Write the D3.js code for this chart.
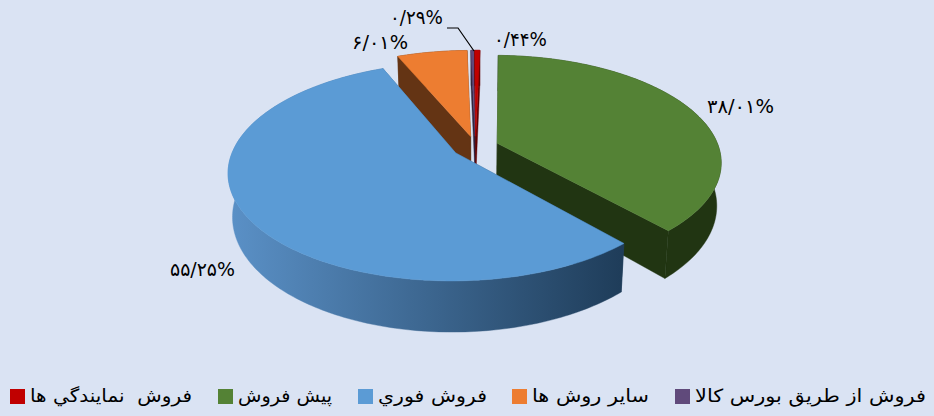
<!DOCTYPE html>
<html><head><meta charset="utf-8">
<script src="https://cdn.jsdelivr.net/npm/d3@7/dist/d3.min.js"></script>
<style>html,body{margin:0;padding:0;background:#dae3f3}svg{display:block}</style>
</head><body><svg id="c" width="934" height="416"></svg>
<script>
const categories = ["پيش فروش","فروش فوري","ساير روش ها","فروش از طريق بورس كالا","فروش  نمايندگي ها"];
const values = [38.01,55.25,6.01,0.29,0.44];
const valueLabels = ["۳۸/۰۱%","۵۵/۲۵%","۶/۰۱%","۰/۲۹%","۰/۴۴%"];
const topColors = ["#548235","#5b9bd5","#ed7d31","#604a7b","#c00000"];
const sideColors = ["#213512","url(#blueSide)","#643414","#30253e","#600000"];

const W=934,H=416;
const cx=475.5,cy=147,R=221.5,K=104,P=0.17,EXPLODE=0.105,DEPTH=42,SHRINK=0.982;
const ROT=1.3*Math.PI/180;
const svg=d3.select("#c");
svg.append("rect").attr("width",W).attr("height",H).attr("fill","#dae3f3");
const defs=svg.append("defs");
const g=defs.append("linearGradient").attr("id","blueSide").attr("gradientUnits","userSpaceOnUse")
 .attr("x1",232).attr("x2",620).attr("y1",0).attr("y2",0);
g.append("stop").attr("offset",0).attr("stop-color","#5a90c6");
g.append("stop").attr("offset",1).attr("stop-color","#1f3d5a");

const arcs=d3.pie().sort(null).startAngle(ROT).endAngle(ROT+2*Math.PI)(values);
const line=d3.line().x(d=>d[0]).y(d=>d[1]);
function proj(u,v,low){
  const w=1-P*v;
  let x=R*u/w, y=K*v/w;
  if(low){x*=SHRINK; y=y+DEPTH/w;}
  return [cx+x,cy+y];
}
function rim(a,m,e,low){
  return proj(EXPLODE*Math.sin(m)+a*Math.sin(e),-EXPLODE*Math.cos(m)-a*Math.cos(e),low);
}
function slicePts(d,low){
  const m=(d.startAngle+d.endAngle)/2, pts=[rim(0,m,m,low)];
  const n=Math.max(3,Math.ceil((d.endAngle-d.startAngle)*60));
  d3.range(n+1).forEach(i=>{const e=d.startAngle+(d.endAngle-d.startAngle)*i/n;pts.push(rim(1,m,e,low));});
  return pts;
}
const order=[2,3,4,0,1];
const chart=svg.append("g");
order.forEach(i=>{
  const d=arcs[i],a=slicePts(d,false),b=slicePts(d,true);
  const side=chart.append("g").attr("fill",sideColors[i]).attr("stroke",sideColors[i]).attr("stroke-width",0.4);
  side.append("path").attr("d",line(a.slice(1).concat(b.slice(1).reverse()))+"Z");
  side.append("path").attr("d",line([a[0],a[1],b[1],b[0]])+"Z");
  side.append("path").attr("d",line([a[0],a[a.length-1],b[b.length-1],b[0]])+"Z");
  chart.append("path").attr("d",line(a)+"Z").attr("fill",topColors[i])
    .attr("stroke",topColors[i]).attr("stroke-width",0.5);
});

const labelAnchors=[[707,113],[170,276],[352,49],[390,24],[494,46]];
const labelWidths=[67,65,56,53,53];
svg.append("g").selectAll("text").data(valueLabels).join("text")
 .attr("x",(d,i)=>labelAnchors[i][0]).attr("y",(d,i)=>labelAnchors[i][1])
 .attr("font-family","'DejaVu Sans'").attr("font-size",19).attr("fill","#000")
 .attr("direction","ltr").style("unicode-bidi","plaintext")
 .attr("textLength",(d,i)=>labelWidths[i]).attr("lengthAdjust","spacingAndGlyphs")
 .text(d=>"\u200e"+d);
svg.append("path").attr("d",line([[447,28],[458,28],[474,51]])).attr("fill","none").attr("stroke","#000").attr("stroke-width",1.2);

const legendOrder=[4,0,1,2,3];
const swatchX=[10,218,358,512,675];
const textWidths=[162,94,109,117,231];
const leg=svg.append("g").selectAll("g").data(legendOrder).join("g")
 .attr("transform",(d,i)=>`translate(${swatchX[i]},389)`);
leg.append("rect").attr("width",15).attr("height",15).attr("fill",d=>topColors[d]);
leg.append("text").attr("x",20).attr("y",13).attr("font-family","'DejaVu Sans'").attr("font-size",18)
 .attr("fill","#000").style("white-space","pre")
 .attr("textLength",(d,i)=>textWidths[i]).attr("lengthAdjust","spacingAndGlyphs")
 .text(d=>categories[d]);
</script></body></html>
